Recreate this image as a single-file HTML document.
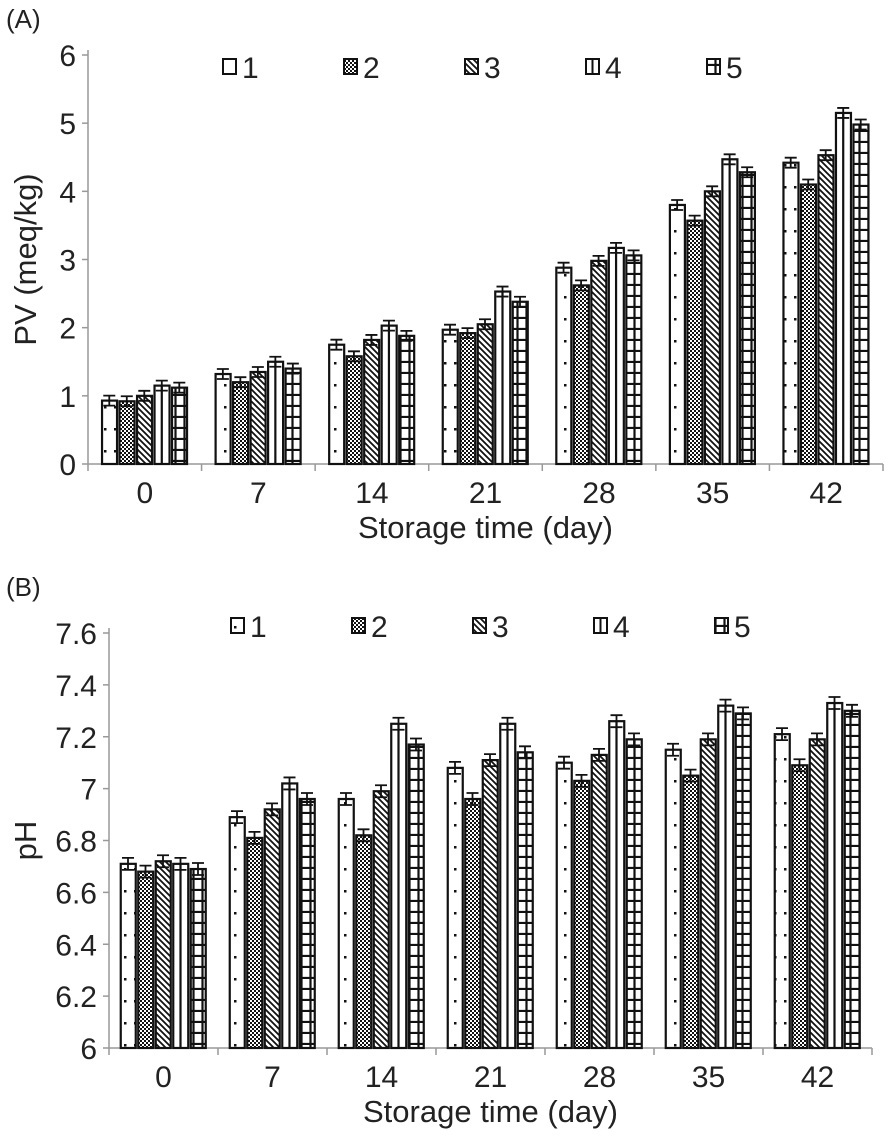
<!DOCTYPE html>
<html><head><meta charset="utf-8"><style>
html,body{margin:0;padding:0;background:#fff}
text{font-family:"Liberation Sans",Arial,sans-serif;fill:#222}
</style></head><body>
<svg id="s" width="886" height="1131" viewBox="0 0 886 1131" xmlns="http://www.w3.org/2000/svg">
<defs>
<pattern id="p1" width="10" height="22" patternUnits="userSpaceOnUse"><rect width="10" height="22" fill="#fff"/><rect x="4" y="10" width="2.5" height="2.5" fill="#111"/></pattern>
<pattern id="p2" width="4" height="4" patternUnits="userSpaceOnUse"><rect width="4" height="4" fill="#fff"/><rect width="2" height="2" fill="#111"/><rect x="2" y="2" width="2" height="2" fill="#111"/></pattern>
<pattern id="p3" width="6" height="6" patternUnits="userSpaceOnUse"><rect width="6" height="6" fill="#fff"/><path d="M0,0 L6,6 M-3,3 L3,9 M3,-3 L9,3" stroke="#111" stroke-width="1.8"/></pattern>
<pattern id="p4" width="20" height="20" patternUnits="userSpaceOnUse"><rect width="20" height="20" fill="#fff"/></pattern>
<pattern id="p5" width="9" height="11" patternUnits="userSpaceOnUse"><rect width="9" height="11" fill="#fff"/><path d="M0,10 H9 M4.5,0 V11" stroke="#111" stroke-width="2.2"/></pattern>
</defs>
<g id="g"></g>
</svg>
<script>
const g=document.getElementById('g');let h='';
function chart(o){
 const {x0,x1,y0,yTop,vmin,vmax,ticks,data,labY,label,letterY,letter,legY,legX}=o;
 const sc=(y0-yTop)/(vmax-vmin);const sp=(x1-x0)/7;
 h+=`<text x="6" y="${letterY}" font-size="26">${letter}</text>`;
 h+=`<line x1="${x0}" y1="${yTop-5}" x2="${x0}" y2="${y0}" stroke="#999" stroke-width="1.5"/>`;
 h+=`<line x1="${x0}" y1="${y0}" x2="${x1}" y2="${y0}" stroke="#999" stroke-width="1.5"/>`;
 ticks.forEach(t=>{const y=y0-(t-vmin)*sc;h+=`<line x1="${x0-6}" y1="${y}" x2="${x0}" y2="${y}" stroke="#999" stroke-width="1.5"/><text x="${x0-12}" y="${y+11}" font-size="30" text-anchor="end">${t}</text>`;});
 for(let i=0;i<=7;i++){const x=x0+i*sp;h+=`<line x1="${x}" y1="${y0}" x2="${x}" y2="${y0+7}" stroke="#999" stroke-width="1.5"/>`;}
 const cats=[0,7,14,21,28,35,42];
 cats.forEach((c,i)=>{const cx=x0+(i+0.5)*sp;h+=`<text x="${cx}" y="${y0+39}" font-size="30" text-anchor="middle">${c}</text>`;
  const bw=17.5,start=cx-bw*2.5;
  data[i].forEach((v,j)=>{const bx=start+j*bw;const y=y0-(v-vmin)*sc;
   h+=`<rect x="${bx+1}" y="${y}" width="${bw-2.5}" height="${y0-y}" fill="url(#p${j+1})" stroke="#111" stroke-width="2.2"/>`;
   if(j==3)h+=`<line x1="${bx+bw/2-0.5}" y1="${y}" x2="${bx+bw/2-0.5}" y2="${y0}" stroke="#111" stroke-width="2.2"/>`;
   const e=o.err, ex=bx+bw/2-0.5;
   h+=`<path d="M${ex},${y-e} V${y+e} M${ex-6},${y-e} H${ex+6} M${ex-6},${y+e} H${ex+6}" stroke="#111" stroke-width="1.8" fill="none"/>`;
  });});
 h+=`<text x="${(x0+x1)/2}" y="${labY}" font-size="31" text-anchor="middle">Storage time (day)</text>`;
 h+=`<text transform="translate(${o.ylx},${(y0+yTop)/2}) rotate(-90)" font-size="31" text-anchor="middle">${label}</text>`;
 for(let j=0;j<5;j++){const lx=legX+j*121;
  h+=`<rect x="${lx}" y="${legY-8}" width="13" height="15" fill="url(#p${j+1})" stroke="#111" stroke-width="2"/>`;
  if(j==3)h+=`<line x1="${lx+6.5}" y1="${legY-8}" x2="${lx+6.5}" y2="${legY+7}" stroke="#111" stroke-width="2"/>`;
  h+=`<text x="${lx+19}" y="${legY+11}" font-size="30">${j+1}</text>`;}
}
chart({x0:88,x1:883,y0:464,yTop:55,vmin:0,vmax:6,ticks:[0,1,2,3,4,5,6],err:5,
 data:[[0.93,0.92,1.0,1.15,1.12],[1.32,1.2,1.35,1.5,1.4],[1.75,1.58,1.82,2.03,1.88],[1.97,1.92,2.05,2.53,2.38],[2.88,2.62,2.98,3.17,3.06],[3.8,3.57,4.0,4.47,4.28],[4.42,4.1,4.53,5.15,4.98]],
 labY:538,label:"PV (meq/kg)",letterY:28,letter:"(A)",legY:67,legX:223,ylx:36});
chart({x0:109,x1:872,y0:1048,yTop:633,vmin:6,vmax:7.6,ticks:[6,6.2,6.4,6.6,6.8,7,7.2,7.4,7.6],err:6,
 data:[[6.71,6.68,6.72,6.71,6.69],[6.89,6.81,6.92,7.02,6.96],[6.96,6.82,6.99,7.25,7.17],[7.08,6.96,7.11,7.25,7.14],[7.10,7.03,7.13,7.26,7.19],[7.15,7.05,7.19,7.32,7.29],[7.21,7.09,7.19,7.33,7.30]],
 labY:1122,label:"pH",letterY:596,letter:"(B)",legY:626,legX:231,ylx:36});
g.innerHTML=h;
</script>
</body></html>
